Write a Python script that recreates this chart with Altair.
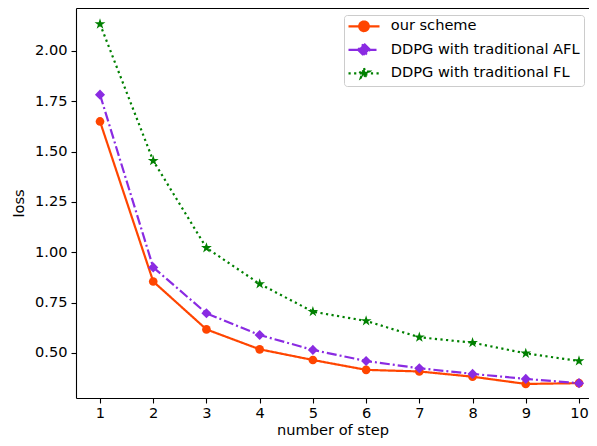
import math
import altair as alt
import pandas as pd

# ---- data ----
steps = [1, 2, 3, 4, 5, 6, 7, 8, 9, 10]
series_names = ["our scheme", "DDPG with traditional AFL", "DDPG with traditional FL"]
our_scheme = [1.650, 0.855, 0.617, 0.518, 0.465, 0.416, 0.408, 0.382, 0.346, 0.350]
ddpg_afl = [1.783, 0.925, 0.697, 0.589, 0.515, 0.460, 0.424, 0.396, 0.371, 0.350]
ddpg_fl = [2.134, 1.455, 1.022, 0.843, 0.705, 0.659, 0.578, 0.551, 0.498, 0.460]
x_ticks = steps
y_ticks = [0.50, 0.75, 1.00, 1.25, 1.50, 1.75, 2.00]

# ---- styles ----
colors = ["#FF4500", "#8A2BE2", "#008000"]
dashes = [[1, 0], [10, 3, 2, 3], [2.2, 3.4]]
FONT = "DejaVu Sans"
FS = 14.6


def star(R, inner=0.382):
    pts = []
    for k in range(10):
        a = math.radians(-90 + 36 * k)
        r = R if k % 2 == 0 else R * inner
        pts.append(f"{r * math.cos(a):.4f},{r * math.sin(a):.4f}")
    return "M" + "L".join(pts) + "Z"


def circle(R, n=24):
    pts = []
    for k in range(n):
        a = 2 * math.pi * k / n
        pts.append(f"{R * math.cos(a):.4f},{R * math.sin(a):.4f}")
    return "M" + "L".join(pts) + "Z"


def diamond(R):
    return f"M0,{-R}L{R},0L0,{R}L{-R},0Z"


point_shapes = ["circle", "diamond", star(1.0)]
point_sizes = [75, 130, 100]

# legend symbols: line sample + marker (path units scaled by sqrt(100)/2 = 5 px)
legend_shapes = [
    "M-3.1,0H3.1" + circle(0.96),
    "M-3.1,0H3.1" + diamond(1.2),
    "M-3.1,0H3.1" + star(1.05),
]

frames = []
for name, vals in zip(series_names, [our_scheme, ddpg_afl, ddpg_fl]):
    frames.append(pd.DataFrame({"step": steps, "loss": vals, "series": name}))
df = pd.concat(frames, ignore_index=True)


def pick(values):
    return "datum.value === '%s' ? %s : datum.value === '%s' ? %s : %s" % (
        series_names[0], values[0], series_names[1], values[1], values[2])


shape_expr = pick(["'%s'" % s for s in legend_shapes])
dash_expr = pick([str(d) for d in dashes])
col_expr = "scale('color', datum.value)"

color_scale = alt.Scale(domain=series_names, range=colors)
xscale = alt.Scale(domain=[0.549, 10.188], nice=False, zero=False)
yscale = alt.Scale(domain=[0.2762, 2.2136], nice=False, zero=False)

legend = alt.Legend(
    title=None,
    orient="none",
    legendX=268,
    legendY=7,
    symbolSize=100,
    symbolOffset=8.7,
    symbolStrokeWidth=2.2,
    symbolType=alt.ExprRef(shape_expr),
    symbolDash=alt.ExprRef(dash_expr),
    symbolStrokeColor=alt.ExprRef(col_expr),
    symbolFillColor=alt.ExprRef(col_expr),
    symbolOpacity=1,
    labelFont=FONT,
    labelFontSize=FS,
    labelColor="#000000",
    labelOffset=19.4,
    labelLimit=400,
    rowPadding=2.5,
    padding=4,
    strokeColor="#cccccc",
    fillColor="#ffffff",
    cornerRadius=3,
)

base = alt.Chart(df)

lines = base.mark_line(strokeWidth=2.2).encode(
    x=alt.X(
        "step:Q",
        scale=xscale,
        axis=alt.Axis(
            values=x_ticks,
            format="d",
            title="number of step",
            labelPadding=2.5,
            titlePadding=2.4,
        ),
    ),
    y=alt.Y(
        "loss:Q",
        scale=yscale,
        axis=alt.Axis(
            values=y_ticks,
            format=".2f",
            title="loss",
            labelPadding=4,
            titlePadding=8.5,
        ),
    ),
    color=alt.Color("series:N", scale=color_scale, legend=None, sort=series_names),
    strokeDash=alt.StrokeDash(
        "series:N", scale=alt.Scale(domain=series_names, range=dashes), legend=None
    ),
)

points = base.mark_point(filled=True, opacity=1, strokeWidth=0).encode(
    x=alt.X(
        "step:Q",
        scale=xscale,
        axis=alt.Axis(orient="top", labels=False, ticks=False, title=None, grid=False),
    ),
    y=alt.Y("loss:Q", scale=yscale),
    color=alt.Color("series:N", scale=color_scale, legend=legend, sort=series_names),
    shape=alt.Shape(
        "series:N", scale=alt.Scale(domain=series_names, range=point_shapes), legend=None
    ),
    size=alt.Size(
        "series:N", scale=alt.Scale(domain=series_names, range=point_sizes), legend=None
    ),
)

chart = (
    alt.layer(lines, points)
    .resolve_axis(x="independent")
    .resolve_legend(color="independent")
    .properties(
        width=513,
        height=390,
        autosize=alt.AutoSizeParams(type="none"),
        padding={"left": 68, "top": 0, "right": 0, "bottom": 40},
    )
    .configure(font=FONT)
    .configure_view(stroke=None)
    .configure_axis(
        grid=False,
        domainColor="#000000",
        domainWidth=1.1,
        tickColor="#000000",
        tickWidth=1.1,
        tickSize=5,
        labelFont=FONT,
        labelFontSize=FS,
        labelColor="#000000",
        titleFont=FONT,
        titleFontSize=FS,
        titleFontWeight="normal",
        titleColor="#000000",
        labelFlush=False,
        labelOverlap=False,
    )
)

chart.save("out.html", embed_options={"renderer": "svg", "actions": False})
